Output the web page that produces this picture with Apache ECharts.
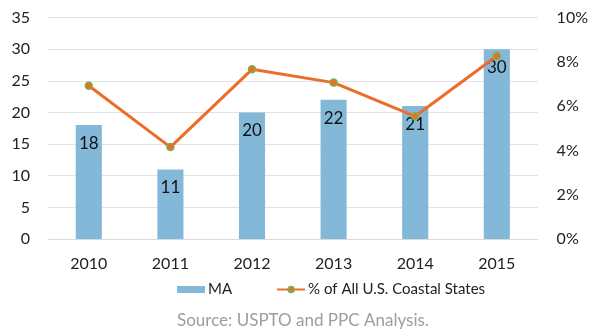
<!DOCTYPE html>
<html>
<head>
<meta charset="utf-8">
<script src="https://cdn.jsdelivr.net/npm/echarts@6/dist/echarts.min.js"></script>
<style>
  html, body { margin: 0; padding: 0; background: #fff; }
  #chart { width: 591px; height: 333px; }
</style>
</head>
<body>
<div id="chart"></div>
<script>
// Patent counts for Massachusetts and its share of all U.S. coastal states
const years = ['2010', '2011', '2012', '2013', '2014', '2015'];
const maCounts = [18, 11, 20, 22, 21, 30];
const coastalShare = [0.0692, 0.0415, 0.0766, 0.0706, 0.0554, 0.0826];
const leftTicks = { min: 0, max: 35, interval: 5 };
const rightTicks = { min: 0, max: 0.1, interval: 0.02 };
const sourceNote = 'Source: USPTO and PPC Analysis.';

const FONT = 'Lato, "Open Sans", sans-serif';
const chart = echarts.init(document.getElementById('chart'));

chart.setOption({
  animation: false,
  textStyle: { fontFamily: FONT },
  grid: { left: 48, right: 51, top: 17.5, bottom: 94, containLabel: false },
  legend: {
    left: 177,
    top: 282,
    padding: 0,
    itemGap: 44,
    itemWidth: 28,
    itemHeight: 7,
    textStyle: { fontFamily: FONT, fontSize: 15, color: '#222', padding: [0, 0, 0, -2] },
    data: [
      { name: 'MA', icon: 'rect' },
      { name: '% of All U.S. Coastal States' }
    ]
  },
  xAxis: {
    type: 'category',
    data: years,
    axisTick: { show: false },
    axisLine: { show: true, lineStyle: { color: '#d9d9d9', width: 1 } },
    axisLabel: { fontFamily: FONT, fontSize: 16, color: '#222', margin: 17 }
  },
  yAxis: [
    {
      type: 'value',
      min: leftTicks.min, max: leftTicks.max, interval: leftTicks.interval,
      axisLine: { show: false },
      axisTick: { show: false },
      splitLine: { lineStyle: { color: '#e2e2e2', width: 1 } },
      axisLabel: { fontFamily: FONT, fontSize: 16, color: '#222', margin: 18 }
    },
    {
      type: 'value',
      min: rightTicks.min, max: rightTicks.max, interval: rightTicks.interval,
      axisLine: { show: false },
      axisTick: { show: false },
      splitLine: { show: false },
      axisLabel: {
        fontFamily: FONT, fontSize: 16, color: '#222', margin: 19,
        formatter: v => Math.round(v * 100) + '%'
      }
    }
  ],
  series: [
    {
      name: 'MA',
      type: 'bar',
      data: maCounts,
      barWidth: '32%',
      itemStyle: { color: '#84b8d9' },
      label: {
        show: true,
        position: 'insideTop',
        distance: 10,
        fontFamily: FONT,
        fontSize: 17,
        color: '#111'
      }
    },
    {
      name: '% of All U.S. Coastal States',
      type: 'line',
      yAxisIndex: 1,
      data: coastalShare,
      symbol: 'circle',
      symbolSize: 7,
      lineStyle: { color: '#ee6c2a', width: 3 },
      itemStyle: { color: '#ee6c2a', borderColor: '#7cb14a', borderWidth: 1.5 },
      z: 3
    }
  ],
  graphic: [
    {
      type: 'text',
      left: 177,
      top: 312,
      style: {
        text: sourceNote,
        fontFamily: FONT,
        fontSize: 17,
        fill: '#9d9d9d'
      }
    }
  ]
});
</script>
</body>
</html>
